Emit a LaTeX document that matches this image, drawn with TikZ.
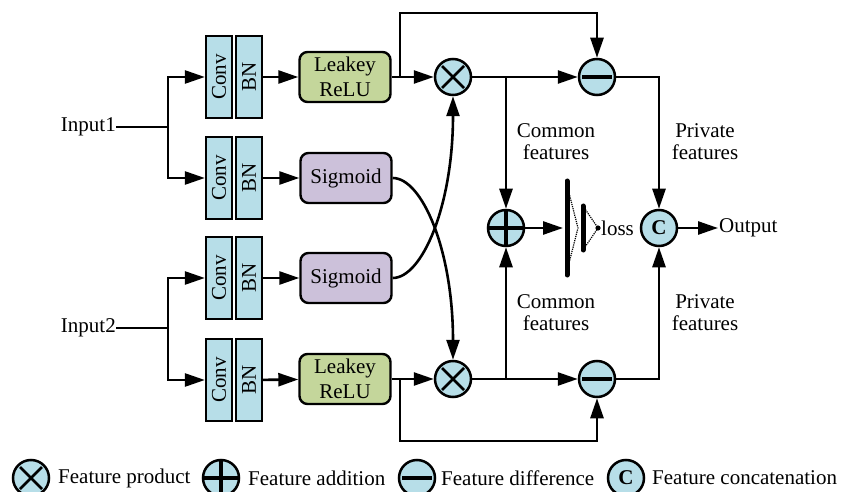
\documentclass[tikz,border=0pt]{standalone}
\usepackage{fontspec}
\setmainfont{Liberation Serif}
\usetikzlibrary{arrows.meta}

\definecolor{boxblue}{RGB}{183,222,232}
\definecolor{reluGreen}{RGB}{196,214,155}
\definecolor{sigPurple}{RGB}{204,193,218}

\tikzset{
  wire/.style={line width=2.6pt},
  arr/.style={wire, -{Triangle[length=20pt,width=13pt]}},
  convbox/.style={draw, line width=2.3pt, fill=boxblue, minimum width=26pt, minimum height=82pt, inner sep=0pt},
  actbox/.style={draw, line width=2.4pt, rounded corners=8pt, minimum width=91pt, minimum height=50pt, align=center, inner sep=0pt},
  opnode/.style={circle, draw, line width=2.5pt, fill=boxblue, minimum size=36pt, inner sep=0pt},
  prodop/.style={opnode, path picture={
      \draw[line width=2.5pt] ([shift={(-11pt,-11pt)}]path picture bounding box.center) -- ([shift={(11pt,11pt)}]path picture bounding box.center)
                              ([shift={(-11pt,11pt)}]path picture bounding box.center) -- ([shift={(11pt,-11pt)}]path picture bounding box.center);}},
  addop/.style={opnode, path picture={
      \draw[line width=3.2pt] (path picture bounding box.north) -- (path picture bounding box.south)
                              (path picture bounding box.west) -- (path picture bounding box.east);}},
  subop/.style={opnode, path picture={
      \draw[line width=3.6pt] ([xshift=-15pt]path picture bounding box.center) -- ([xshift=15pt]path picture bounding box.center);}},
  catop/.style={opnode, font=\fontsize{21}{22}\selectfont\bfseries},
  lbl/.style={align=center, font=\fontsize{21}{22}\selectfont},
}

\begin{document}
\begin{tikzpicture}[x=1pt, y=-1pt, font=\fontsize{21}{25}\selectfont]
    \useasboundingbox (0,0) rectangle (844,492);

    % --- inputs and Conv/BN pairs ---
    \node[anchor=east, inner sep=0pt] (in1) at (116,127) {Input1};
    \node[anchor=east, inner sep=0pt] (in2) at (116,328) {Input2};
    \coordinate (br1) at (168,127);
    \coordinate (br2) at (168,328);

    \foreach \n/\y in {1/77, 2/178, 3/278, 4/380} {
        \node[convbox] (conv\n) at (219,\y) {\rotatebox{90}{Conv}};
        \node[convbox] (bn\n) at (249,\y) {\rotatebox{90}{BN}};
    }

    \node[actbox, fill=reluGreen] (relu1) at (345,77) {Leakey\\ReLU};
    \node[actbox, fill=sigPurple] (sig1) at (346,178) {Sigmoid};
    \node[actbox, fill=sigPurple] (sig2) at (346,278) {Sigmoid};
    \node[actbox, fill=reluGreen] (relu2) at (345,379) {Leakey\\ReLU};

    \draw[wire] (in1) -- (br1);
    \draw[wire] (in2) -- (br2);
    \draw[arr] (br1) |- (conv1);
    \draw[arr] (br1) |- (conv2);
    \draw[arr] (br2) |- (conv3);
    \draw[arr] (br2) |- (conv4);
    \draw[arr] (bn1) -- (relu1);
    \draw[arr] (bn2) -- (sig1);
    \draw[arr] (bn3) -- (sig2);
    \draw[arr] (bn4) -- (relu2);

    % --- feature operations ---
    \node[prodop] (pr1) at (453,77) {};
    \node[prodop] (pr2) at (453,379) {};
    \node[subop] (mn1) at (597,77) {};
    \node[subop] (mn2) at (597,379) {};
    \node[addop] (pl) at (506,228) {};
    \node[catop] (cc) at (659,228) {C};
    \node[anchor=west, inner sep=1pt] (out) at (718,228) {Output};

    \coordinate (s1) at (400,77);  \coordinate (top1) at (400,13);
    \coordinate (s2) at (400,379); \coordinate (bot1) at (400,441);
    \coordinate (s3) at (506,77);  \coordinate (s4) at (506,379);

    \draw[arr] (relu1) -- (pr1);
    \draw[arr] (relu2) -- (pr2);
    \draw[arr] (s1) -- (top1) -| (mn1);
    \draw[arr] (s2) -- (bot1) -| (mn2);
    \draw[arr] (sig1.east) .. controls (422,178) and (453,250) .. (pr2.north);
    \draw[arr] (sig2.east) .. controls (422,278) and (453,206) .. (pr1.south);
    \draw[arr] (pr1) -- (mn1);
    \draw[arr] (pr2) -- (mn2);
    \draw[arr] (s3) -- (pl);
    \draw[arr] (s4) -- (pl);
    \draw[arr] (mn1) -| (cc);
    \draw[arr] (mn2) -| (cc);
    \draw[arr] (cc) -- (out);

    % --- loss ---
    \coordinate (bar1t) at (567,181); \coordinate (bar1b) at (567,275);
    \coordinate (bar2t) at (583,206); \coordinate (bar2b) at (583,250);
    \coordinate (barin) at (563,228); \coordinate (mid) at (578,228);
    \coordinate (dot) at (598,228);
    \draw[arr] (pl) -- (barin);
    \draw[line width=5pt, line cap=round] (bar1t) -- (bar1b);
    \draw[line width=5pt, line cap=round] (bar2t) -- (bar2b);
    \draw[densely dotted, line width=1.2pt] (568,189) -- (mid) -- (568,267);
    \draw[densely dotted, line width=1.2pt] (bar2t) -- (dot) -- (bar2b);
    \fill (dot) circle (2.6pt);
    \node[anchor=west, inner sep=0pt] (loss) at (601,228) {loss};

    % --- labels ---
    \node[lbl] (cf1) at (556,142) {Common\\features};
    \node[lbl] (pf1) at (705,142) {Private\\features};
    \node[lbl] (cf2) at (556,313) {Common\\features};
    \node[lbl] (pf2) at (705,313) {Private\\features};

    % --- legend ---
    \node[prodop] (lg1) at (31,478) {};
    \node[anchor=west, inner sep=0pt] (lt1) at (58,478) {Feature product};
    \node[addop] (lg2) at (221,478) {};
    \node[anchor=west, inner sep=0pt] (lt2) at (248,478) {Feature addition};
    \node[subop] (lg3) at (417,478) {};
    \node[anchor=west, inner sep=0pt] (lt3) at (441,478) {Feature difference};
    \node[catop] (lg4) at (626,478) {C};
    \node[anchor=west, inner sep=0pt] (lt4) at (652,478) {Feature concatenation};
\end{tikzpicture}
\end{document}
